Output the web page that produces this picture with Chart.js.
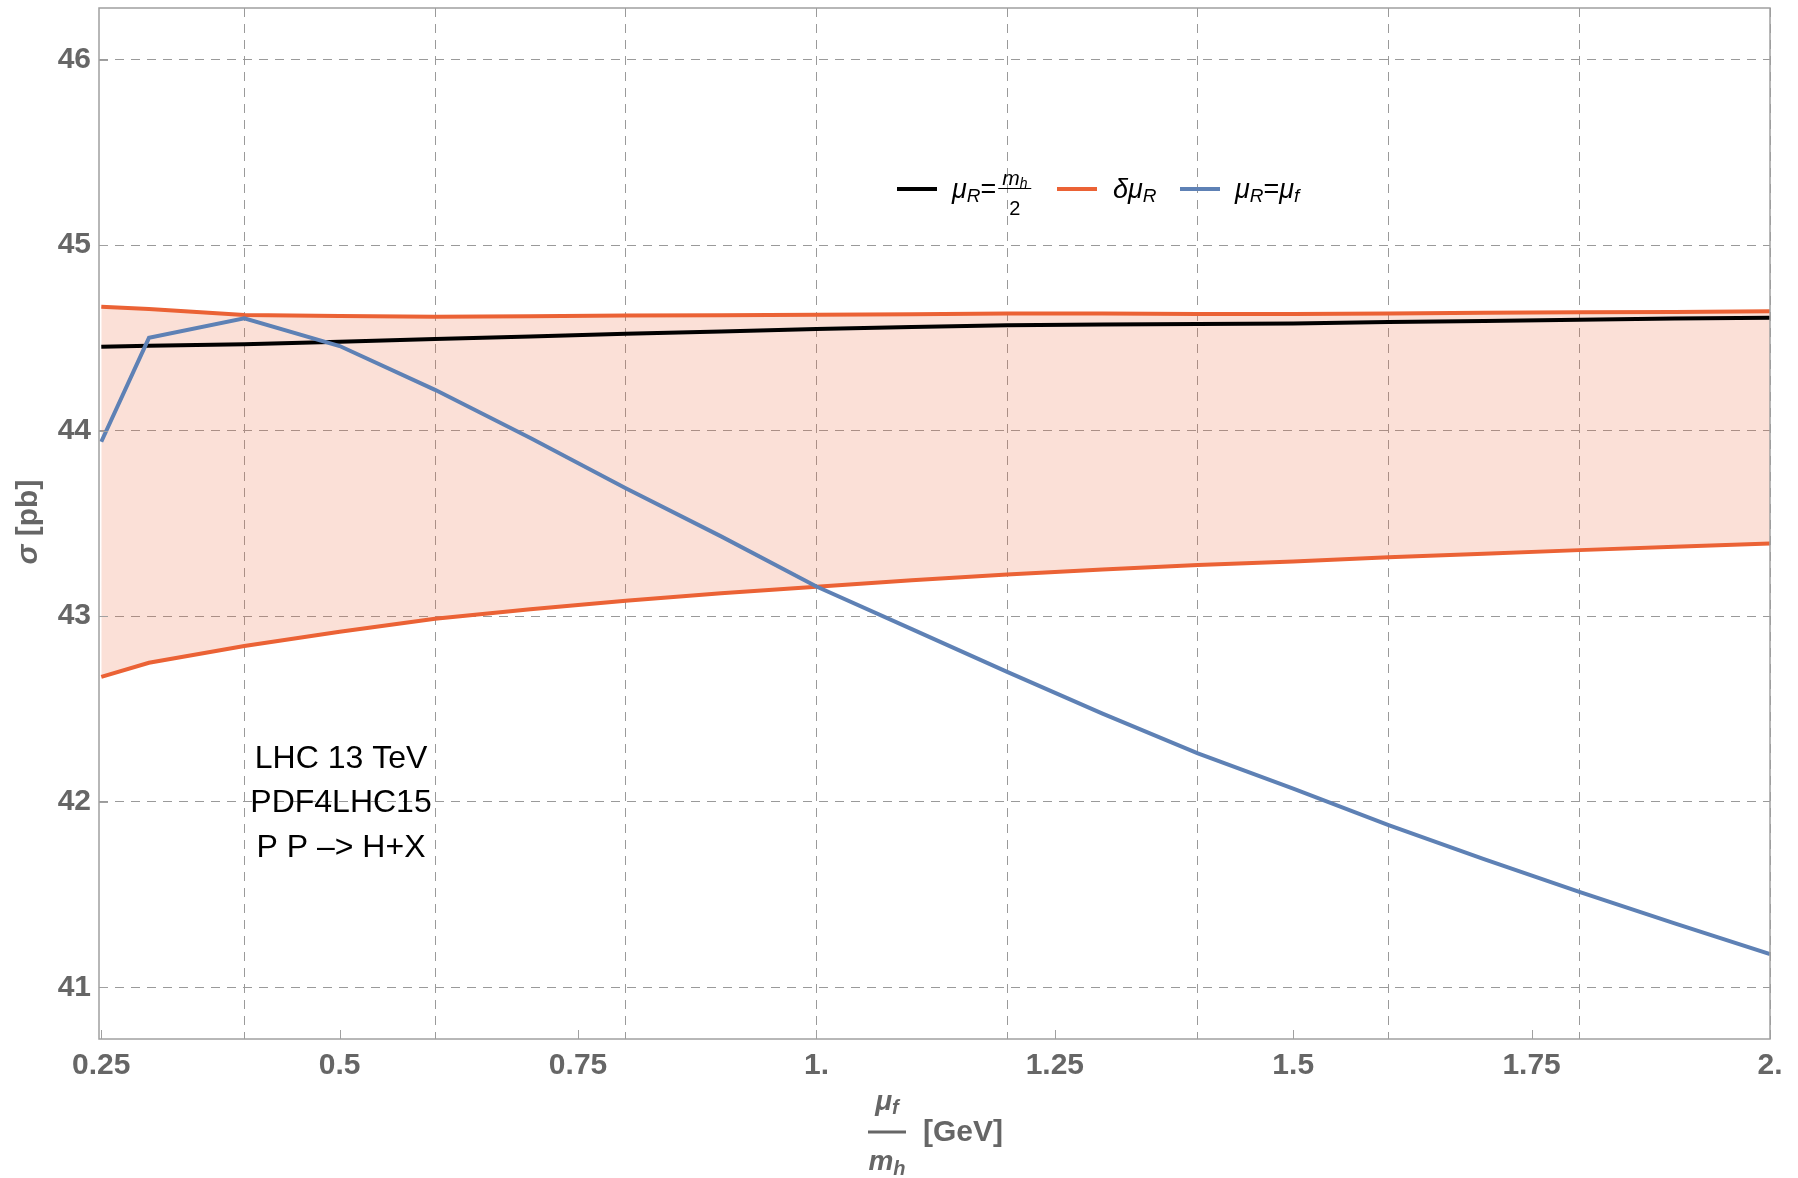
<!DOCTYPE html>
<html>
<head>
<meta charset="utf-8">
<script src="https://cdn.jsdelivr.net/npm/chart.js@4.4.1/dist/chart.umd.min.js"></script>
<style>
html,body{margin:0;padding:0;background:#fff;}
#wrap{width:1798px;height:1178px;position:relative;}
canvas{display:block;}
</style>
</head>
<body>
<div id="wrap"><canvas id="c" width="1798" height="1178"></canvas></div>
<script>
// ---------------- data ----------------
const muF = [0.25, 0.3, 0.4, 0.5, 0.6, 0.7, 0.8, 0.9, 1.0, 1.1, 1.2, 1.3, 1.4, 1.5, 1.6, 1.7, 1.8, 1.9, 2.0];
const sigmaCentral = [44.452, 44.458, 44.465, 44.479, 44.494, 44.508, 44.522, 44.535, 44.548, 44.558, 44.568, 44.572, 44.575, 44.578, 44.585, 44.591, 44.598, 44.604, 44.609];
const sigmaUpper = [44.668, 44.655, 44.623, 44.618, 44.614, 44.617, 44.620, 44.622, 44.625, 44.628, 44.632, 44.631, 44.629, 44.629, 44.632, 44.635, 44.638, 44.640, 44.643];
const sigmaLower = [42.673, 42.749, 42.839, 42.916, 42.986, 43.037, 43.083, 43.123, 43.159, 43.193, 43.225, 43.252, 43.276, 43.295, 43.317, 43.337, 43.356, 43.374, 43.392];
const sigmaMuREqMuF = [43.94, 44.50, 44.605, 44.456, 44.22, 43.96, 43.69, 43.43, 43.16, 42.93, 42.70, 42.475, 42.26, 42.07, 41.874, 41.69, 41.514, 41.344, 41.178];

const xTickValues = [0.25, 0.5, 0.75, 1.0, 1.25, 1.5, 1.75, 2.0];
const xTickLabels = ['0.25', '0.5', '0.75', '1.', '1.25', '1.5', '1.75', '2.'];
const xGridValues = [0.4, 0.6, 0.8, 1.0, 1.2, 1.4, 1.6, 1.8, 2.0];
const yTickValues = [41, 42, 43, 44, 45, 46];
const yTickLabels = ['41', '42', '43', '44', '45', '46'];
const annotationLines = ['LHC 13 TeV', 'PDF4LHC15', 'P P –> H+X'];

const X_MIN = 0.2476, X_MAX = 2.0;
const Y_MIN = 40.721, Y_MAX = 46.278;

// ---------------- style ----------------
const FAM = '"Liberation Sans", Arial, Helvetica, sans-serif';
const C_BLACK = '#000000';
const C_ORANGE = '#EB6235';
const C_BLUE = '#5E81B5';
const C_FILL = 'rgba(235,98,53,0.2)';
const C_GRID = '#9a9a9a';
const C_FRAME = '#a0a0a0';
const C_LABEL = '#666666';

function pts(arr) { return muF.map((x, i) => ({ x: x, y: arr[i] })); }
function line(arr, color, extra) {
  return Object.assign({
    data: pts(arr), borderColor: color, borderWidth: 4, pointRadius: 0,
    pointHoverRadius: 0, fill: false, tension: 0
  }, extra || {});
}

function runs(ctx, x, y, list) {
  ctx.textAlign = 'left';
  for (const r of list) {
    ctx.font = (r.i ? 'italic ' : '') + (r.b ? 'bold ' : '') + r.s + 'px ' + FAM;
    ctx.fillText(r.t, x, y + (r.dy || 0));
    x += ctx.measureText(r.t).width;
  }
  return x;
}
function runsWidth(ctx, list) {
  let w = 0;
  for (const r of list) {
    ctx.font = (r.i ? 'italic ' : '') + (r.b ? 'bold ' : '') + r.s + 'px ' + FAM;
    w += ctx.measureText(r.t).width;
  }
  return w;
}

const decor = {
  id: 'decor',
  afterDraw(chart) {
    const ctx = chart.ctx;
    const a = chart.chartArea;
    const xs = chart.scales.x, ys = chart.scales.y;
    ctx.save();
    // frame
    ctx.strokeStyle = C_FRAME;
    ctx.lineWidth = 1.5;
    ctx.setLineDash([]);
    ctx.strokeRect(a.left, a.top, a.right - a.left, a.bottom - a.top);
    // inward ticks
    ctx.lineWidth = 1;
    ctx.beginPath();
    xs.ticks.forEach(t => {
      const px = Math.round(xs.getPixelForValue(t.value)) + 0.5;
      ctx.moveTo(px, a.bottom); ctx.lineTo(px, a.bottom - 9);
    });
    ys.ticks.forEach(t => {
      const py = Math.round(ys.getPixelForValue(t.value)) + 0.5;
      ctx.moveTo(a.left, py); ctx.lineTo(a.left + 9, py);
    });
    ctx.stroke();

    // annotation
    ctx.fillStyle = '#000';
    ctx.font = '32px ' + FAM;
    ctx.textAlign = 'center';
    ctx.textBaseline = 'alphabetic';
    const baseY = [768, 812, 857];
    annotationLines.forEach((s, i) => ctx.fillText(s, 341, baseY[i]));

    // legend
    const ly = 189;
    ctx.lineWidth = 4;
    [[897, C_BLACK], [1057, C_ORANGE], [1180, C_BLUE]].forEach(([x0, c]) => {
      ctx.strokeStyle = c;
      ctx.beginPath(); ctx.moveTo(x0, ly); ctx.lineTo(x0 + 40, ly); ctx.stroke();
    });
    ctx.fillStyle = '#000';
    ctx.textBaseline = 'alphabetic';
    let xe = runs(ctx, 952, 198, [
      { t: 'μ', s: 27, i: true }, { t: 'R', s: 19, i: true, dy: 4 }, { t: '=', s: 27 }
    ]);
    // fraction m_h / 2
    const num = [{ t: 'm', s: 21, i: true }, { t: 'h', s: 14, i: true, dy: 3 }];
    const fx0 = xe + 2, fw = 33;
    const nw = runsWidth(ctx, num);
    runs(ctx, fx0 + (fw - nw) / 2, 185, num);
    ctx.strokeStyle = '#000'; ctx.lineWidth = 1;
    ctx.beginPath(); ctx.moveTo(fx0, 188.5); ctx.lineTo(fx0 + fw, 188.5); ctx.stroke();
    ctx.font = '20px ' + FAM;
    ctx.textAlign = 'center';
    ctx.fillText('2', fx0 + fw / 2, 215);
    runs(ctx, 1113, 198, [
      { t: 'δ', s: 27, i: true }, { t: 'μ', s: 27, i: true }, { t: 'R', s: 19, i: true, dy: 4 }
    ]);
    runs(ctx, 1235, 198, [
      { t: 'μ', s: 27, i: true }, { t: 'R', s: 19, i: true, dy: 4 }, { t: '=', s: 27 },
      { t: 'μ', s: 27, i: true }, { t: 'f', s: 19, i: true, dy: 4 }
    ]);

    // x axis title: mu_f / m_h [GeV]
    ctx.fillStyle = C_LABEL;
    const xn = [{ t: 'μ', s: 28, i: true, b: true }, { t: 'f', s: 20, i: true, b: true, dy: 4 }];
    const xd = [{ t: 'm', s: 28, i: true, b: true }, { t: 'h', s: 20, i: true, b: true, dy: 5 }];
    const cx = 887;
    runs(ctx, cx - runsWidth(ctx, xn) / 2, 1110, xn);
    runs(ctx, cx - runsWidth(ctx, xd) / 2, 1170, xd);
    ctx.strokeStyle = C_LABEL; ctx.lineWidth = 3;
    ctx.beginPath(); ctx.moveTo(868, 1132); ctx.lineTo(906, 1132); ctx.stroke();
    ctx.font = 'bold 30px ' + FAM;
    ctx.textAlign = 'left'; ctx.textBaseline = 'middle';
    ctx.fillText('[GeV]', 923, 1133);

    // y axis title
    ctx.translate(29, 522);
    ctx.rotate(-Math.PI / 2);
    const yt = [{ t: 'σ', s: 30, i: true, b: true }, { t: ' [pb]', s: 30, b: true }];
    ctx.textBaseline = 'middle';
    runs(ctx, -runsWidth(ctx, yt) / 2, 0, yt);
    ctx.restore();
  }
};

new Chart(document.getElementById('c'), {
  type: 'line',
  data: {
    datasets: [
      line(sigmaMuREqMuF, C_BLUE),
      line(sigmaUpper, C_ORANGE),
      line(sigmaLower, C_ORANGE, { fill: '-1', backgroundColor: C_FILL }),
      line(sigmaCentral, C_BLACK)
    ]
  },
  options: {
    responsive: false,
    animation: false,
    devicePixelRatio: 1,
    layout: { padding: { left: 0, right: 28, top: 8, bottom: 0 } },
    plugins: {
      legend: { display: false },
      tooltip: { enabled: false },
      filler: { drawTime: 'beforeDatasetsDraw' }
    },
    scales: {
      x: {
        type: 'linear', position: 'bottom', min: X_MIN, max: X_MAX, bounds: 'data',
        afterBuildTicks: s => { s.ticks = xTickValues.map(v => ({ value: v })); },
        ticks: {
          callback: (v, i) => xTickLabels[i], color: C_LABEL, padding: 9,
          font: { family: FAM, size: 30, weight: 'bold' }, maxRotation: 0, autoSkip: false
        },
        grid: { display: false, drawTicks: false },
        border: { display: false },
        afterFit: s => { s.height = 139; s.paddingLeft = 0; s.paddingRight = 0; }
      },
      xg: {
        type: 'linear', position: 'bottom', min: X_MIN, max: X_MAX, bounds: 'data',
        afterBuildTicks: s => { s.ticks = xGridValues.map(v => ({ value: v })); },
        ticks: { display: false },
        grid: { display: true, drawTicks: false, color: C_GRID, lineWidth: 1 },
        border: { display: false, dash: [9, 7] },
        afterFit: s => { s.height = 0; s.paddingLeft = 0; s.paddingRight = 0; }
      },
      y: {
        type: 'linear', position: 'left', min: Y_MIN, max: Y_MAX, bounds: 'data',
        afterBuildTicks: s => { s.ticks = yTickValues.map(v => ({ value: v })); },
        ticks: {
          callback: (v, i) => yTickLabels[i], color: C_LABEL, padding: 8,
          font: { family: FAM, size: 30, weight: 'bold' }, autoSkip: false
        },
        grid: { display: true, drawTicks: false, color: C_GRID, lineWidth: 1 },
        border: { display: false, dash: [9, 7] },
        afterFit: s => { s.width = 99; s.paddingTop = 0; s.paddingBottom = 0; }
      }
    }
  },
  plugins: [decor]
});
</script>
</body>
</html>
